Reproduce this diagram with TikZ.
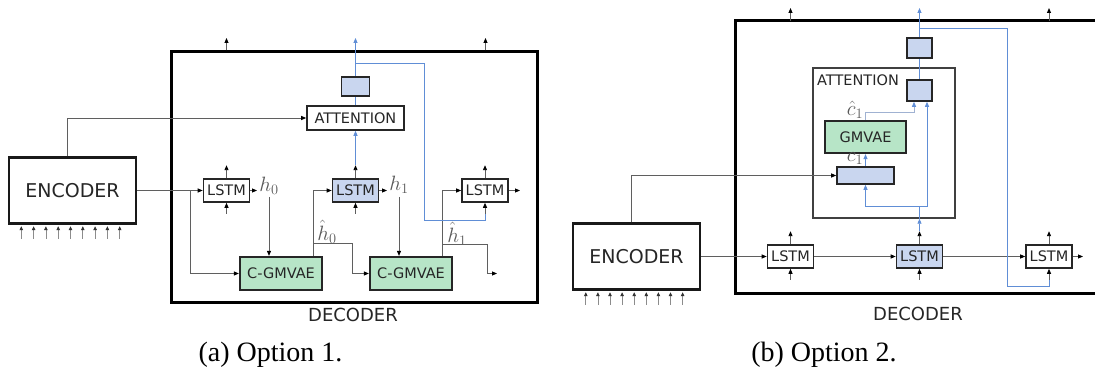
\documentclass[tikz,border=0pt]{standalone}
\usepackage{fontspec}
\setmainfont{Liberation Serif}
\newfontfamily\djv{DejaVu Sans}
\usetikzlibrary{arrows.meta,calc}
\definecolor{bfill}{RGB}{201,214,239}
\definecolor{gfill}{RGB}{183,229,199}
\definecolor{blin}{RGB}{96,142,214}
\definecolor{clin}{RGB}{160,178,210}
\definecolor{lgray}{RGB}{95,95,95}
\tikzset{
  box/.style={draw=black!85, line width=1.6pt, inner sep=0pt, font=\djv\fontsize{14.5}{16}\selectfont, text=black!85},
  lstm/.style={box, minimum width=46pt, minimum height=23pt},
  blstm/.style={lstm, fill=bfill},
  gbox/.style={box, fill=gfill, line width=2.2pt},
  sbox/.style={box, fill=bfill},
  encbox/.style={draw=black!90, line width=2.4pt, minimum width=127pt, minimum height=66pt, inner sep=0pt, font=\djv\fontsize{19}{21}\selectfont, text=black!85},
  declab/.style={inner sep=0pt, font=\djv\fontsize{18}{20}\selectfont, text=black!85},
  caplab/.style={inner sep=0pt, font=\fontsize{28}{30}\selectfont},
  conn/.style={draw=lgray, line width=0.9pt},
  arr/.style={conn, -{Triangle[length=5pt,width=4pt,color=black]}},
  inarr/.style={draw=black!45, line width=0.8pt, -{Triangle[length=4pt,width=3.5pt,color=black!80]}},
  bl/.style={draw=blin, line width=0.9pt},
  barr/.style={bl, -{Triangle[length=5pt,width=4pt]}},
  carr/.style={draw=clin, line width=0.9pt, -{Triangle[length=5pt,width=4pt,color=blin]}},
  mlabel/.style={inner sep=0pt, text=black!65, font=\fontsize{20}{22}\selectfont},
}
\begin{document}
\begin{tikzpicture}[x=1pt,y=-1pt]
\useasboundingbox (0,0) rectangle (1095,374);
\fill[white] (0,0) rectangle (1095,374);

% ================= Option 1 =================
\node[draw=black, line width=3pt, minimum width=366pt, minimum height=250pt] (dec1) at (354,177) {};
\node[declab] (dlab1) at (353,314.5) {DECODER};
\node[encbox] (enc1) at (72.5,190.5) {ENCODER};
\foreach \i in {0,...,8} {
  \draw[inarr] ($(enc1.south west)+(13.5+12.3*\i,14)$) -- ($(enc1.south west)+(13.5+12.3*\i,1.5)$);
}
\node[box, minimum width=97pt, minimum height=24pt, fill=white] (att1) at (355.5,118) {ATTENTION};
\node[sbox, minimum width=28pt, minimum height=19pt] (bb1) at (355.5,86.5) {};
\node[lstm] (lstm1a) at (226.5,190.5) {LSTM};
\node[blstm] (lstm2a) at (355.5,190.5) {LSTM};
\node[lstm] (lstm3a) at (485,190.5) {LSTM};
\node[gbox, minimum width=82pt, minimum height=33pt] (cg1) at (281,273.5) {C-GMVAE};
\node[gbox, minimum width=82pt, minimum height=33pt] (cg2) at (411,273.5) {C-GMVAE};
\node[mlabel] (h0) at (269,185.5) {$h_0$};
\node[mlabel] (h1) at (399,184.5) {$h_1$};
\node[mlabel] (hh0) at (327,232) {$\hat h_0$};
\node[mlabel] (hh1) at (457,234) {$\hat h_1$};

\foreach \n in {lstm1a,lstm2a,lstm3a} {
  \draw[arr] (\n.north) -- ([yshift=13pt]\n.north);
  \draw[arr] ([yshift=-11pt]\n.south) -- (\n.south);
}
\draw[arr] (enc1.east) -- (lstm1a.west);
\draw[arr] ([xshift=-5.5pt]enc1.north) |- (att1.west);
\coordinate (br1) at (190,190.5);
\draw[arr] (br1) |- (cg1.west);
\coordinate (h0e) at (257,190.5);
\draw[arr] (lstm1a.east) -- (h0e);
\coordinate (h0d) at (269,197);
\draw[arr] (h0d) -- (h0d |- cg1.north);
\draw[arr] ([xshift=32pt]cg1.north) |- (lstm2a.west);
\coordinate (hb0) at (313,243);
\coordinate (hk0) at (352,243);
\draw[arr] (hb0) -- (hk0) |- (cg2.west);
\coordinate (h1e) at (387,190.5);
\draw[arr] (lstm2a.east) -- (h1e);
\coordinate (h1d) at (399,197);
\draw[arr] (h1d) -- (h1d |- cg2.north);
\draw[arr] ([xshift=31pt]cg2.north) |- (lstm3a.west);
\coordinate (hb1) at (442,244);
\coordinate (hk1) at (487,244);
\coordinate (ho1) at (497,273.5);
\draw[arr] (hb1) -- (hk1) |- (ho1);
\coordinate (l3o) at (520,190.5);
\draw[arr] (lstm3a.east) -- (l3o);
% outputs on top
\coordinate (t1a) at (226.5,38);
\coordinate (t3a) at (485.5,38);
\coordinate (t2a) at (355.5,38);
\draw[arr] (t1a |- dec1.north) -- (t1a);
\draw[arr] (t3a |- dec1.north) -- (t3a);
% blue path
\draw[barr] ([yshift=13pt]lstm2a.north) -- (att1.south);
\draw[bl] (att1.north) -- (bb1.south);
\draw[barr] (bb1.north) -- (t2a);
\coordinate (bj1) at (355.5,63);
\coordinate (bk1) at (424,63);
\coordinate (bm1) at (424,220);
\draw[bl] (bj1) -- (bk1) -- (bm1) -| ([yshift=-11pt]lstm3a.south);

% ================= Option 2 =================
\draw[draw=black, line width=3pt] (1097,21) -- (735,21) -- (735,293) -- (1097,293);
\coordinate (d2top) at (735,21);
\node[declab] (dlab2) at (918,313.5) {DECODER};
\node[encbox] (enc2) at (636.5,256.5) {ENCODER};
\foreach \i in {0,...,8} {
  \draw[inarr] ($(enc2.south west)+(14+12.1*\i,14)$) -- ($(enc2.south west)+(14+12.1*\i,1.5)$);
}
\node[draw=black!75, line width=1.5pt, minimum width=142pt, minimum height=150pt, inner sep=0pt] (att2) at (884,143) {};
\node[inner sep=0pt, font=\djv\fontsize{14.5}{16}\selectfont, text=black!85] (attl) at (858,80) {ATTENTION};
\node[sbox, minimum width=25pt, minimum height=20pt] (bbA) at (919.5,48) {};
\node[sbox, minimum width=25pt, minimum height=21pt] (bbB) at (919.5,90.5) {};
\node[gbox, minimum width=81pt, minimum height=32pt] (gmv) at (865.5,137) {GMVAE};
\node[sbox, minimum width=57pt, minimum height=17pt] (c1b) at (865.5,175.5) {};
\node[mlabel] (ch1) at (855,110) {$\hat c_1$};
\node[mlabel] (cc1) at (855,158.5) {$c_1$};
\node[lstm] (lstm1b) at (790.5,256.5) {LSTM};
\node[blstm] (lstm2b) at (919.5,256.5) {LSTM};
\node[lstm] (lstm3b) at (1049,256.5) {LSTM};

\foreach \n in {lstm1b,lstm2b,lstm3b} {
  \draw[arr] (\n.north) -- ([yshift=13pt]\n.north);
  \draw[arr] ([yshift=-11pt]\n.south) -- (\n.south);
}
\draw[arr] (enc2.east) -- (lstm1b.west);
\draw[arr] (lstm1b.east) -- (lstm2b.west);
\draw[arr] (lstm2b.east) -- (lstm3b.west);
\coordinate (l3o2) at (1083,256.5);
\draw[arr] (lstm3b.east) -- (l3o2);
\draw[arr] ([xshift=-5.5pt]enc2.north) |- (c1b.west);
\coordinate (t1b) at (790.5,8);
\coordinate (t3b) at (1049,8);
\coordinate (t2b) at (919.5,8);
\draw[arr] (t1b |- d2top) -- (t1b);
\draw[arr] (t3b |- d2top) -- (t3b);
% blue paths
\draw[barr] ([yshift=13pt]lstm2b.north) -- (lstm2b.north |- att2.south);
\coordinate (bj2) at (919.5,206);
\draw[bl] (lstm2b.north |- att2.south) -- (bj2);
\draw[barr] (bj2) -| (c1b.south);
\draw[barr] (bj2) -| ([xshift=7.5pt]bbB.south);
\draw[barr] (c1b.north) -- (gmv.south);
\coordinate (chk) at (865.5,112);
\draw[carr] (gmv.north) -- (chk) -| ([xshift=-5.5pt]bbB.south);
\draw[bl] (bbB.north) -- (bbA.south);
\draw[barr] (bbA.north) -- (t2b);
\coordinate (bj3) at (919.5,28);
\coordinate (bk3) at (1007,28);
\coordinate (bm3) at (1007,286);
\draw[bl] (bj3) -- (bk3) -- (bm3) -| ([yshift=-11pt]lstm3b.south);

% captions
\node[caplab] (capa) at (270.5,355) {(a) Option 1.};
\node[caplab] (capb) at (824,355) {(b) Option 2.};
\end{tikzpicture}
\end{document}
